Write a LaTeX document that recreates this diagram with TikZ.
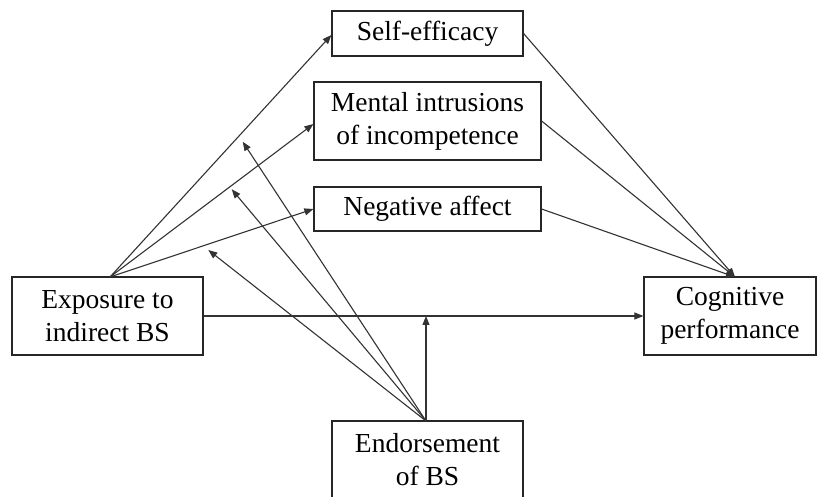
\documentclass[tikz,border=0pt]{standalone}
\usepackage{fontspec}
\setmainfont{Liberation Serif}
\usetikzlibrary{arrows.meta}
\begin{document}
\begin{tikzpicture}[x=1pt,y=-1pt,
  box/.style={draw=black!85,line width=1.2pt,fill=white,align=center,inner sep=0pt,
    font=\fontsize{27.5}{33}\selectfont},
  conn/.style={draw=black!80,line width=1.1pt,-{Triangle[length=9pt,width=7pt]}},
  plain/.style={draw=black!80,line width=1.1pt}]
\useasboundingbox[fill=white] (0,0) rectangle (823,497);
\node[box,minimum width=191pt,minimum height=45pt] (SE) at (427.5,33.5) {Self-efficacy};
\node[box,minimum width=227pt,minimum height=78pt] (MI) at (427.5,121) {Mental intrusions\\of incompetence};
\node[box,minimum width=227pt,minimum height=44pt] (NA) at (427.5,209) {Negative affect};
\node[box,minimum width=191pt,minimum height=78pt] (EX) at (107.5,316) {Exposure to\\indirect BS};
\node[box,minimum width=172pt,minimum height=78pt] (CP) at (730,316) {Cognitive\\performance};
\node[box,minimum width=191pt,minimum height=78pt] (EN) at (427.5,460) {Endorsement\\of BS};
\coordinate (EXt) at (110,277);
\coordinate (CPt) at (735,277);
\coordinate (ENt) at (426,421);
\coordinate (m0) at (426,316);
\coordinate (m1) at (242.7,141.7);
\coordinate (m2) at (231.7,189.3);
\coordinate (m3) at (208.3,250);
\draw[conn] (EXt) -- (SE.west |- 0,35);
\draw[conn] (EXt) -- (MI.west |- 0,124);
\draw[conn] (EXt) -- (NA.west);
\draw[conn] (SE.east) -- (CPt);
\draw[conn] (MI.east) -- (CPt);
\draw[conn] (NA.east) -- (CPt);
\draw[conn] (EX.east) -- (CP.west);
\draw[conn] (ENt) -- (m0);
\draw[conn] (ENt) -- (m1);
\draw[conn] (ENt) -- (m2);
\draw[conn] (ENt) -- (m3);
\end{tikzpicture}
\end{document}
